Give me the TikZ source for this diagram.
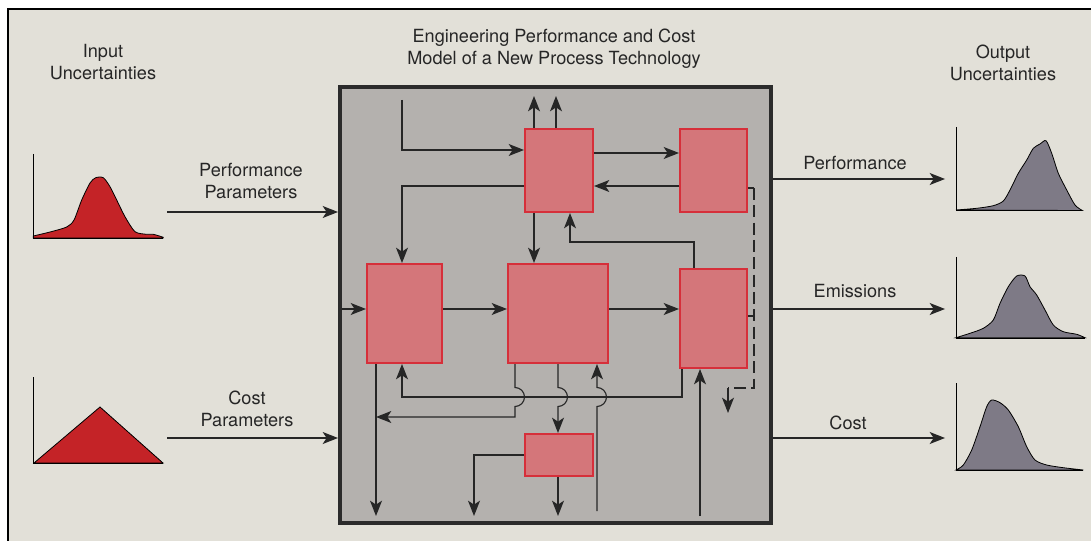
\documentclass[tikz,border=0pt]{standalone}
\usepackage{fontspec}
\setmainfont{TeX Gyre Heros}
\usetikzlibrary{arrows.meta}
\definecolor{pagebg}{HTML}{E2E0D8}
\definecolor{mainfill}{HTML}{B4B1AE}
\definecolor{mainborder}{HTML}{2B2B2B}
\definecolor{redfill}{HTML}{D4767A}
\definecolor{redborder}{HTML}{D62F3A}
\definecolor{infill}{HTML}{C42327}
\definecolor{outfill}{HTML}{7E7A86}
\definecolor{linec}{HTML}{262626}
\tikzset{
  lbl/.style={font=\fontsize{13.6}{16.5}\selectfont, align=center, text=black!85, inner sep=0pt},
  mainbox/.style={draw=mainborder, fill=mainfill, line width=3pt, inner sep=0pt},
  redbox/.style={draw=redborder, fill=redfill, line width=1.5pt, inner sep=0pt},
  arr/.style={draw=linec, line width=0.85pt, -{Stealth[length=11.5pt,width=9pt,inset=3pt]}},
  conn/.style={draw=linec, line width=0.85pt},
  axis/.style={draw=black, line width=0.7pt},
  indist/.style={fill=infill, draw=black, line width=0.6pt},
  outdist/.style={fill=outfill, draw=black, line width=0.6pt},
}
\begin{document}
\begin{tikzpicture}[x=0.75pt,y=-0.75pt]
\useasboundingbox (0,0) rectangle (1091,541);
\fill[white] (0,0) rectangle (1091,541);
\fill[pagebg] (8,9) rectangle (1091,541);
\draw[black, line width=0.8pt] (8,541) -- (8,9) -- (1091,9);

% titles
\node[lbl] (title) at (554,48.5) {Engineering Performance and Cost\\Model of a New Process Technology};
\node[lbl] (inu) at (103,62) {Input\\Uncertainties};
\node[lbl] (outu) at (1003,62.5) {Output\\Uncertainties};

% main model box
\node[mainbox, minimum width=431*0.75pt, minimum height=436*0.75pt] (M) at (555.5,305) {};

% internal boxes
\node[redbox, minimum width=68*0.75pt, minimum height=83*0.75pt] (A) at (559,170.5) {};
\node[redbox, minimum width=67*0.75pt, minimum height=83*0.75pt] (B) at (713.5,170.5) {};
\node[redbox, minimum width=75*0.75pt, minimum height=99*0.75pt] (C) at (404.5,313.5) {};
\node[redbox, minimum width=100*0.75pt, minimum height=99*0.75pt] (D) at (558,313.5) {};
\node[redbox, minimum width=67*0.75pt, minimum height=99*0.75pt] (E) at (713.5,318.5) {};
\node[redbox, minimum width=68*0.75pt, minimum height=42*0.75pt] (F) at (559,455) {};

% internal connectors
\coordinate (t1) at (402,100);
\draw[arr] (t1) |- (A.west |- 0,150);
\draw[arr] (A.north -| 534,0) -- (534,96);
\draw[arr] (A.north -| 556,0) -- (556,96);
\draw[arr] (A.east |- 0,153) -- (B.west |- 0,153);
\draw[arr] (B.west |- 0,186) -- (A.east |- 0,186);
\draw[arr] (A.west |- 0,186) -| (C.north -| 402,0);
\draw[arr] (A.south -| 534,0) -- (D.north -| 534,0);
\draw[arr] (E.north -| 694,0) |- (570,242) -- (A.south -| 570,0);
% dashed feedback
\draw[conn] (B.east |- 0,188) -- (754,188);
\draw[conn] (E.east |- 0,316) -- (754,316);
\draw[conn, dash pattern=on 9pt off 4pt] (754,188) -- (754,388) -- (728,388);
\coordinate (dd) at (728,413);
\draw[arr] (728,388) -- (dd);
% middle row
\draw[arr] (M.west |- 0,309) -- (C.west |- 0,309);
\draw[arr] (C.east |- 0,309) -- (D.west |- 0,309);
\draw[arr] (D.east |- 0,309) -- (E.west |- 0,309);
% lower connections
\coordinate (b1) at (376,516);
\draw[arr] (C.south -| 376,0) -- (b1);
\draw[arr] (E.south -| 682,0) |- (402,397) -- (C.south -| 402,0);
\draw[arr] (D.south -| 515,0) -- (515,387.5) arc[start angle=-90, end angle=90, radius=9.5] -- (515,417) -- (376,417);
\draw[arr] (D.south -| 558,0) -- (558,387.5) arc[start angle=-90, end angle=90, radius=9.5] -- (F.north -| 558,0);
\coordinate (b4) at (597,511);
\draw[arr] (b4) -- (597,406.5) arc[start angle=90, end angle=-90, radius=9.5] -- (D.south -| 597,0);
\coordinate (b2) at (474,516);
\draw[arr] (F.west |- 0,455) -| (b2);
\coordinate (b3) at (558,516);
\draw[arr] (F.south -| 558,0) -- (b3);
\coordinate (b5) at (700,516);
\draw[arr] (b5) -- (E.south -| 700,0);
% redraw main border on top
\draw[mainborder, line width=3pt] (M.north west) ++(1.5pt,-1.5pt) rectangle ([shift={(-1.5pt,1.5pt)}]M.south east);

% input side
\node[lbl] (pp) at (251,181.5) {Performance\\Parameters};
\node[lbl] (cp) at (247,409) {Cost\\Parameters};
\coordinate (ppa) at (167,212);
\coordinate (cpa) at (167,438);
\draw[arr] (ppa) -- (M.west |- 0,212);
\draw[arr] (cpa) -- (M.west |- 0,438);

% input distributions
\fill[indist] (33.3,238) -- plot[smooth, tension=0.45] coordinates {(33.3,236) (50,232) (66.7,227) (74,220) (81.7,200) (90,183) (95.7,177.7) (103.3,177.7) (110,186.7) (116.7,200) (125,216.7) (135,231.7) (146.7,234.3) (153.3,234.3) (163.3,237.3)} -- (163.3,238) -- cycle;
\draw[axis] (33,154) -- (33,238) -- (163,238);
\fill[indist] (34,463) -- (100,407) -- (163,463) -- cycle;
\draw[axis] (33,377) -- (33,463) -- (163,463);

% output side
\node[lbl] (op) at (855,163) {Performance};
\node[lbl] (oe) at (855,291) {Emissions};
\node[lbl] (oc) at (848,423) {Cost};
\coordinate (opa) at (945,179);
\coordinate (oea) at (945,309);
\coordinate (oca) at (945,438);
\draw[arr] (M.east |- 0,179) -- (opa);
\draw[arr] (M.east |- 0,309) -- (oea);
\draw[arr] (M.east |- 0,438) -- (oca);

% output distributions
\fill[outdist] (956,210) -- plot[smooth, tension=0.45] coordinates {(956,210) (976.7,208.3) (993.3,205.7) (1003.3,201) (1010,190) (1018.3,173.3) (1026.7,160) (1033.3,148.3) (1040,144) (1046,140.7) (1051.7,153.3) (1058.3,173.3) (1066.7,190) (1075,205) (1082.3,210.5)} -- cycle;
\draw[axis] (956,127) -- (956,210.5) -- (1082,210.5);
\fill[outdist] (956,337.7) -- plot[smooth, tension=0.45] coordinates {(956,337.7) (970,333.3) (983.3,328.3) (993.3,320) (1000,303.3) (1008.3,286.7) (1016.7,276) (1025,276) (1030,286.7) (1036.7,295) (1045,310) (1053.3,325) (1063.3,331.7) (1076.7,334.3) (1085,337.7)} -- cycle;
\draw[axis] (956,257) -- (956,338) -- (1085,338);
\fill[outdist] (956,470) -- plot[smooth, tension=0.45] coordinates {(956,470) (963.3,465) (971.7,450) (980,426.7) (986.7,406.7) (991.7,400) (1000,402.7) (1008.3,410) (1018.3,426.7) (1026.7,446.7) (1035,460) (1046.7,465) (1063.3,467.7) (1083.3,470)} -- cycle;
\draw[axis] (956,383) -- (956,470) -- (1083,470);
\end{tikzpicture}
\end{document}
